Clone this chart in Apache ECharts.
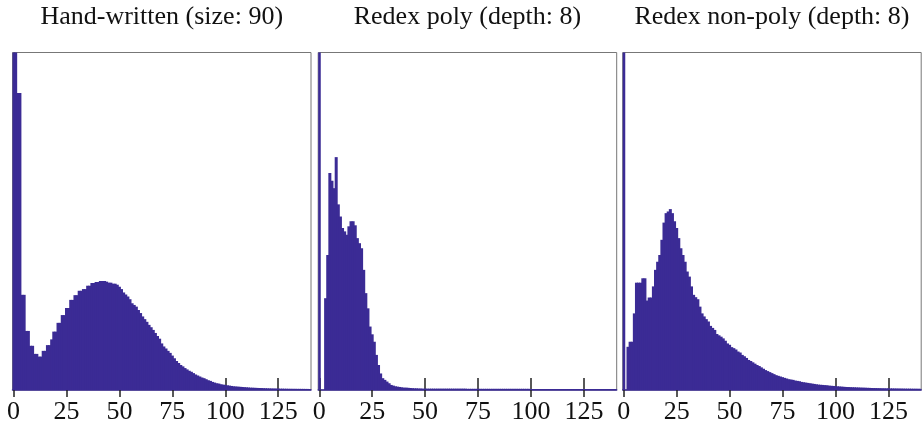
<!DOCTYPE html>
<html>
<head>
<meta charset="utf-8">
<script src="https://cdn.jsdelivr.net/npm/echarts@6/dist/echarts.min.js"></script>
<style>
  html, body { margin: 0; padding: 0; background: #fff; }
  #main { width: 923px; height: 430px; }
</style>
</head>
<body>
<div id="main"></div>
<script>
// term size 0..140, one bar per size
var sizes = Array.from({ length: 141 }, function (_, i) { return String(i); });
var tickLabels = ['0', '25', '50', '75', '100', '125'];
var titles = ['Hand-written (size: 90)', 'Redex poly (depth: 8)', 'Redex non-poly (depth: 8)'];

// bar heights, % of panel height (tallest bars are clipped at the top)
var handWritten = [
  100, 100, 88, 88, 28.2, 28.2, 17.5, 17.5, 13.1, 13.1,
  10.7, 10.7, 9.9, 9.9, 11.6, 11.6, 13.3, 13.3, 15, 17.3,
  17.3, 19.9, 19.9, 22.2, 22.2, 24.3, 24.3, 26.7, 26.7, 28.1,
  28.1, 29.4, 29.4, 29.9, 29.9, 30.9, 30.9, 31.7, 31.7, 32,
  32, 32.3, 32.3, 32.3, 32.1, 31.8, 31.8, 31.5, 31.5, 31.2,
  30.6, 29.9, 28.9, 28.3, 27.7, 26.9, 25.7, 25.2, 24.7, 23.7,
  22.8, 21.8, 21, 20.2, 19.3, 18.6, 17.8, 16.9, 16, 15.2,
  13.8, 12.9, 12.3, 11.6, 11, 10.2, 9.4, 8.6, 8, 7.4,
  7, 6.5, 6.1, 5.7, 5.4, 5, 4.6, 4.3, 4, 3.7,
  3.5, 3.2, 2.9, 2.7, 2.4, 2.2, 2, 1.9, 1.7, 1.6,
  1.5, 1.4, 1.3, 1.2, 1.1, 1.05, 1, 0.95, 0.9, 0.85,
  0.8, 0.75, 0.7, 0.68, 0.65, 0.62, 0.6, 0.58, 0.55, 0.52,
  0.5, 0.48, 0.46, 0.45, 0.44, 0.42, 0.4, 0.4, 0.38, 0.38,
  0.36, 0.36, 0.35, 0.35, 0.34, 0.34, 0.33, 0.33, 0.32, 0.32, 0.3
];

var redexPoly = [
  100, 0, 0, 27.2, 40, 64.3, 62, 59.8, 69, 55,
  51.4, 48, 47, 46, 48.5, 50, 50, 48.8, 45, 43.5,
  42, 35.6, 28.7, 24.2, 18.8, 16.5, 14.3, 10.4, 7.4, 4.9,
  3.5, 3, 2.5, 2, 1.5, 1.3, 1.1, 1, 0.9, 0.8,
  0.7, 0.7, 0.65, 0.6, 0.55, 0.5, 0.5, 0.45, 0.45, 0.4,
  0.4, 0.4, 0.4, 0.4, 0.4, 0.4, 0.4, 0.4, 0.4, 0.4,
  0.4, 0.4, 0.4, 0.4, 0.4, 0.4, 0.4, 0.4, 0.4, 0.4,
  0.35, 0.35, 0.35, 0.35, 0.35, 0.35, 0.35, 0.35, 0.35, 0.35,
  0.35, 0.35, 0.35, 0.35, 0.35, 0.35, 0.35, 0.35, 0.35, 0.35,
  0.35, 0.35, 0.35, 0.35, 0.35, 0.35, 0.35, 0.35, 0.35, 0.35,
  0.3, 0.3, 0.3, 0.3, 0.3, 0.3, 0.3, 0.3, 0.3, 0.3,
  0.3, 0.3, 0.3, 0.3, 0.3, 0.3, 0.3, 0.3, 0.3, 0.3,
  0.3, 0.3, 0.3, 0.3, 0.3, 0.3, 0.3, 0.3, 0.3, 0.3,
  0.3, 0.3, 0.3, 0.3, 0.3, 0.3, 0.3, 0.3, 0.3, 0.3, 0.3
];

var redexNonPoly = [
  100, 0, 12.8, 14.3, 14.3, 22.7, 31.8, 31.8, 31.8, 33.1,
  33.1, 26.5, 27.4, 27.4, 30.7, 35.6, 38, 40, 44.5, 49.6,
  52.4, 52.9, 53.6, 52.4, 50, 48, 45, 42, 40, 38,
  35.1, 33.6, 30.7, 28.2, 27.5, 26.9, 24.7, 22.7, 21.8, 21,
  20.3, 19, 18.4, 17.8, 16.6, 16.2, 15.8, 15.3, 14.6, 13.8,
  13.4, 12.7, 12.4, 12, 11.4, 11.1, 10.4, 10, 9.5, 8.9,
  8.6, 8.2, 7.8, 7.4, 7.1, 6.7, 6.3, 5.9, 5.6, 5.3,
  5, 4.7, 4.4, 4.2, 4, 3.8, 3.6, 3.4, 3.2, 3.1,
  3, 2.8, 2.7, 2.6, 2.4, 2.3, 2.2, 2.1, 2, 1.9,
  1.8, 1.7, 1.6, 1.55, 1.5, 1.45, 1.4, 1.3, 1.25, 1.2,
  1.15, 1.1, 1.05, 1, 0.95, 0.9, 0.88, 0.85, 0.82, 0.8,
  0.77, 0.75, 0.72, 0.7, 0.68, 0.65, 0.63, 0.6, 0.58, 0.57,
  0.55, 0.54, 0.52, 0.51, 0.5, 0.49, 0.48, 0.47, 0.46, 0.45,
  0.44, 0.43, 0.42, 0.41, 0.4, 0.4, 0.39, 0.38, 0.38, 0.37, 0.36
];

var panels = [handWritten, redexPoly, redexNonPoly];
var panelLeft = [12.5, 318.2, 622.7];
var panelWidth = 298.5;
var barColor = '#3b2b95';
var serif = '"Liberation Serif", "DejaVu Serif", serif';

function isTick(i) { return tickLabels.indexOf(sizes[i]) >= 0; }

var myChart = echarts.init(document.getElementById('main'), null, { renderer: 'canvas' });

var option = {
  animation: false,
  title: [],
  grid: [],
  xAxis: [],
  yAxis: [],
  series: []
};

panels.forEach(function (vals, p) {
  option.title.push({
    text: titles[p],
    left: panelLeft[p] + panelWidth / 2,
    top: 4,
    padding: 0,
    textAlign: 'center',
    textStyle: { fontFamily: serif, fontSize: 26, fontWeight: 'normal', color: '#111' }
  });
  option.grid.push({
    left: panelLeft[p], top: 52.5, width: panelWidth, height: 337.5,
    show: true, borderColor: '#777', borderWidth: 1, backgroundColor: 'transparent'
  });
  // axis with labels and outside ticks
  option.xAxis.push({
    type: 'category', gridIndex: p, data: sizes, boundaryGap: true,
    axisLine: { show: true, lineStyle: { color: barColor, width: 1.5 } },
    axisTick: { show: true, interval: isTick, alignWithLabel: true, inside: false, length: 7,
      lineStyle: { color: '#222', width: 1.5 } },
    axisLabel: { show: true, interval: isTick, margin: 9, color: '#111',
      fontFamily: serif, fontSize: 26 },
    splitLine: { show: false }
  });
  // twin axis that only draws the inside part of the ticks
  option.xAxis.push({
    type: 'category', gridIndex: p, data: sizes, boundaryGap: true, position: 'bottom',
    axisLine: { show: false },
    axisTick: { show: true, interval: isTick, alignWithLabel: true, inside: true, length: 12,
      lineStyle: { color: '#222', width: 1.5 } },
    axisLabel: { show: false },
    splitLine: { show: false }
  });
  option.yAxis.push({ type: 'value', gridIndex: p, min: 0, max: 100, show: false });
  option.series.push({
    type: 'bar', xAxisIndex: p * 2, yAxisIndex: p, data: vals,
    barWidth: 3,
    itemStyle: { color: barColor }, silent: true
  });
});

myChart.setOption(option);
</script>
</body>
</html>
